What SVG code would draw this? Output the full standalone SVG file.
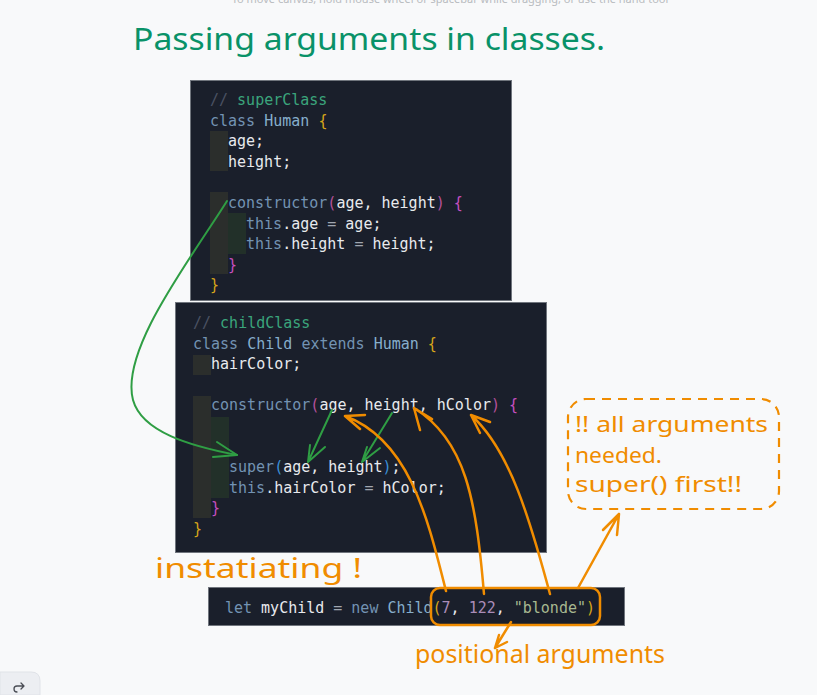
<svg xmlns="http://www.w3.org/2000/svg" width="817" height="695" viewBox="0 0 817 695">
<defs>
<style>
.code{font-family:"DejaVu Sans Mono","Liberation Mono",monospace;font-size:15px;fill:#e8eaee}
.cm{fill:#4b5263}.cg{fill:#3ba57c}.kw{fill:#7393b3}.cn{fill:#86aecb}.yl{fill:#d7a51a}.mg{fill:#b5509a}.pk{fill:#c64fc0}.bl{fill:#3b8fd6}.op{fill:#a0a6b0}.num{fill:#a98cb8}.str{fill:#a7b890}
.hand{font-family:"Comic Sans MS","Noto Sans",sans-serif}
.og{fill:none;stroke:#f08c00;stroke-width:2.5;stroke-linecap:round;stroke-linejoin:round}
.gr{fill:none;stroke:#2f9e44;stroke-width:2;stroke-linecap:round;stroke-linejoin:round}
.blk{fill:#1a1f2b;stroke:#70757d;stroke-width:1}
.g1{fill:#2b2e2c}.g2{fill:#223029}
</style>
</defs>
<rect width="817" height="695" fill="#f8f9fa"/>
<text x="450" y="3" text-anchor="middle" font-family="Noto Sans, sans-serif" font-size="11" fill="#b9bcc0">To move canvas, hold mouse wheel or spacebar while dragging, or use the hand tool</text>
<text x="133" y="50" class="hand" font-size="30" fill="#099268" textLength="472" lengthAdjust="spacingAndGlyphs">Passing arguments in classes.</text>

<g id="superClass">
<rect class="blk" x="190.5" y="80.5" width="321" height="220"/>
<rect class="g1" x="210" y="131" width="18" height="40"/>
<rect class="g1" x="210" y="192" width="18" height="82"/>
<rect class="g2" x="228" y="213" width="18" height="41"/>
<text class="code" x="210" y="105"><tspan class="cm">// </tspan><tspan class="cg">superClass</tspan></text>
<text class="code" x="210" y="125.6"><tspan class="kw">class </tspan><tspan class="cn">Human </tspan><tspan class="yl">{</tspan></text>
<text class="code" x="228" y="146.2">age;</text>
<text class="code" x="228" y="166.8">height;</text>
<text class="code" x="228" y="208"><tspan class="kw">constructor</tspan><tspan class="mg">(</tspan>age, height<tspan class="mg">)</tspan> <tspan class="pk">{</tspan></text>
<text class="code" x="246" y="228.6"><tspan class="kw">this</tspan>.age <tspan class="op">=</tspan> age;</text>
<text class="code" x="246" y="249.2"><tspan class="kw">this</tspan>.height <tspan class="op">=</tspan> height;</text>
<text class="code" x="228" y="269.8"><tspan class="pk">}</tspan></text>
<text class="code" x="210" y="290.4"><tspan class="yl">}</tspan></text>
</g>

<g id="childClass">
<rect class="blk" x="175.5" y="302.5" width="371" height="250"/>
<rect class="g1" x="193" y="355" width="18" height="20"/>
<rect class="g1" x="193" y="396" width="18" height="122"/>
<rect class="g2" x="211" y="417" width="18" height="81"/>
<text class="code" x="193" y="328"><tspan class="cm">// </tspan><tspan class="cg">childClass</tspan></text>
<text class="code" x="193" y="348.6"><tspan class="kw">class </tspan><tspan class="cn">Child </tspan><tspan class="kw">extends </tspan><tspan class="cn">Human </tspan><tspan class="yl">{</tspan></text>
<text class="code" x="211" y="369.2">hairColor;</text>
<text class="code" x="211" y="410.4"><tspan class="kw">constructor</tspan><tspan class="mg">(</tspan>age, height, hColor<tspan class="mg">)</tspan> <tspan class="pk">{</tspan></text>
<text class="code" x="229" y="472.2"><tspan class="kw">super</tspan><tspan class="bl">(</tspan>age, height<tspan class="bl">)</tspan>;</text>
<text class="code" x="229" y="492.8"><tspan class="kw">this</tspan>.hairColor <tspan class="op">=</tspan> hColor;</text>
<text class="code" x="211" y="513.4"><tspan class="pk">}</tspan></text>
<text class="code" x="193" y="534"><tspan class="yl">}</tspan></text>
</g>

<g id="instance">
<rect class="blk" x="208.5" y="587.5" width="416" height="38"/>
<text class="code" x="225" y="613" textLength="370" lengthAdjust="spacing"><tspan class="kw">let </tspan>myChild <tspan class="op">=</tspan> <tspan class="kw">new </tspan><tspan class="cn">Child</tspan><tspan class="yl">(</tspan><tspan class="num">7</tspan>, <tspan class="num">122</tspan>, <tspan class="str">"blonde"</tspan><tspan class="yl">)</tspan></text>
</g>

<g id="args-box">
<rect class="og" x="431" y="588" width="169" height="37" rx="9"/>
</g>

<g id="note">
<rect x="568" y="399" width="211" height="110" rx="18" fill="none" stroke="#f08c00" stroke-width="2.2" stroke-dasharray="9 7"/>
<text x="575" y="432" class="hand" font-size="22" fill="#f08c00" textLength="193" lengthAdjust="spacingAndGlyphs">!! all arguments</text>
<text x="575" y="463" class="hand" font-size="22" fill="#f08c00" textLength="87" lengthAdjust="spacingAndGlyphs">needed.</text>
<text x="575" y="492" class="hand" font-size="22" fill="#f08c00" textLength="167" lengthAdjust="spacingAndGlyphs">super() first!!</text>
</g>

<g id="labels">
<text x="155" y="578" class="hand" font-size="28" fill="#f08c00" textLength="207" lengthAdjust="spacingAndGlyphs">instatiating !</text>
<text x="415" y="663" class="hand" font-size="26" fill="#f08c00" textLength="250" lengthAdjust="spacingAndGlyphs">positional arguments</text>
</g>

<g id="connectors">
<path class="gr" d="M227,201 C190,260 120,350 133,400 C142,432 190,446 237,455"/>
<path class="gr" d="M217,442 L237,455 L213,457"/>
<path class="gr" d="M332,410 L308,462 M310,445 L308,462 L325,447"/>
<path class="gr" d="M392,413 L362,462 M367,447 L362,462 L380,448"/>
<path class="og" d="M446,591 C428,520 410,440 345,416 M365,415 L345,416 L360,429"/>
<path class="og" d="M484,594 C476,500 466,440 414,408 M432,419 L414,408 L420,430"/>
<path class="og" d="M550,594 C530,520 510,450 471,415 M490,422 L471,415 L480,433"/>
<path class="og" d="M578,588 L619,514 M603,530 L619,514 L617,535"/>
<path class="og" d="M511,622 L495,648 M499,635 L495,648 L507,642"/>
</g>

<g id="ui-button">
<path d="M0,672 H31 Q40,672 40,681 V695 H0 Z" fill="#eceef2" stroke="#e0e3e8" stroke-width="1"/>
<path d="M23,686 H17 Q14,686 14,689 Q14,692 17,692 M21,683 L24,686 L21,689" fill="none" stroke="#4a4d55" stroke-width="1.3" stroke-linecap="round" stroke-linejoin="round"/>
</g>
</svg>
